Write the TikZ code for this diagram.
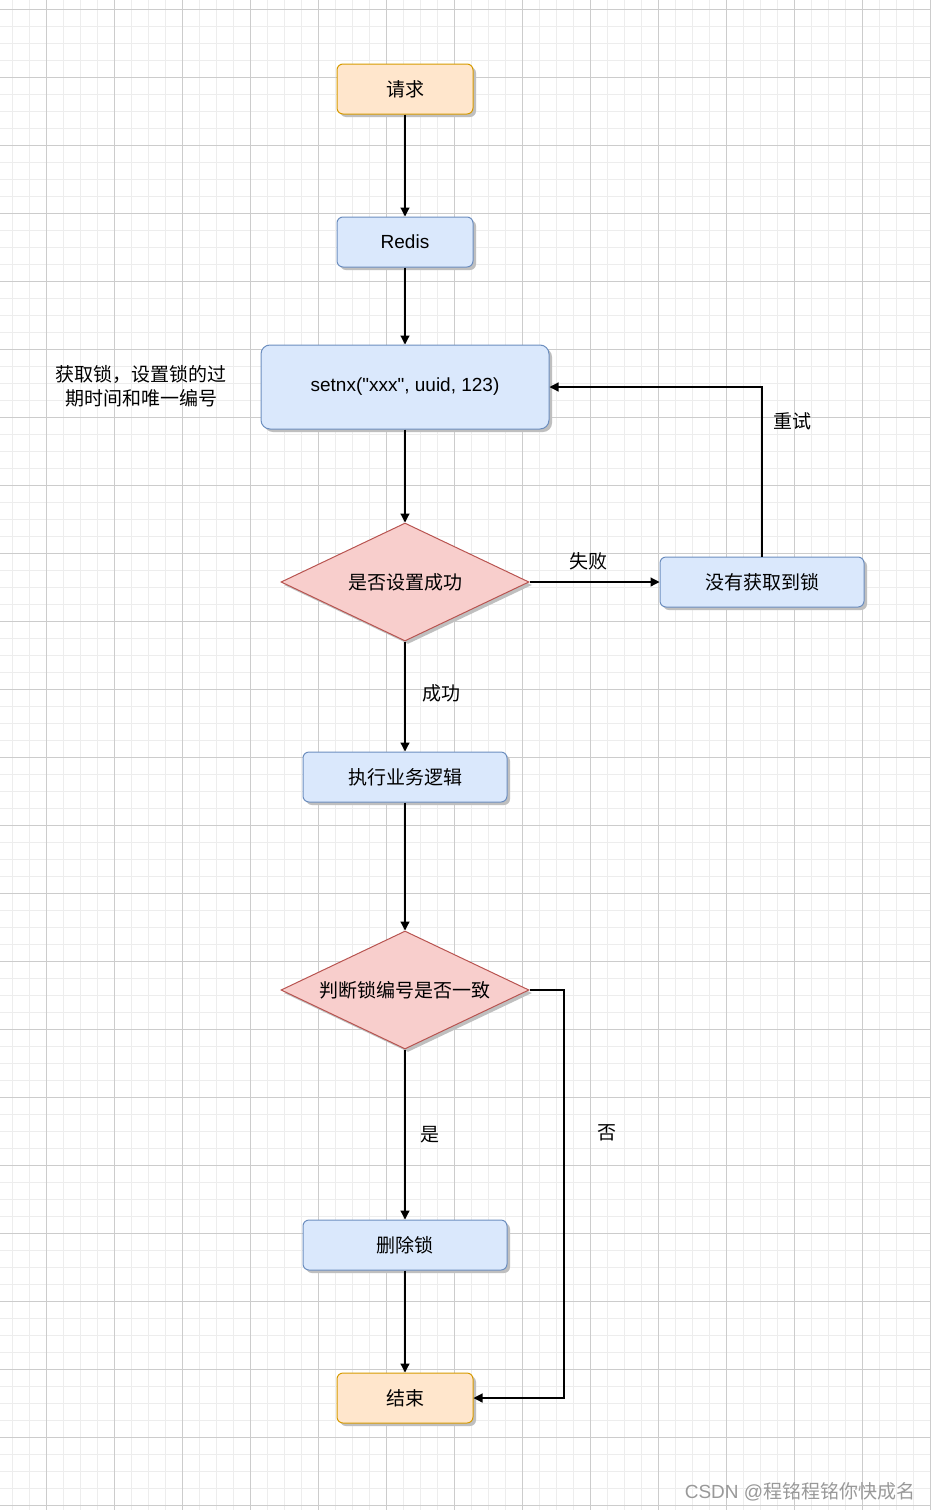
\documentclass[tikz,border=0pt]{standalone}
\usepackage{fontspec}
\setmainfont{Liberation Sans}
\newfontfamily\cjk{Noto Sans CJK SC}
\usetikzlibrary{shapes.geometric,shadows,arrows.meta}
\definecolor{yf}{HTML}{FFE6CC}\definecolor{yd}{HTML}{D79B00}
\definecolor{bf}{HTML}{DAE8FC}\definecolor{bd}{HTML}{6C8EBF}
\definecolor{rf}{HTML}{F8CECC}\definecolor{rd}{HTML}{B85450}
\begin{document}
\begin{tikzpicture}[x=1pt,y=-1pt,font=\cjk\fontsize{19}{22}\selectfont,
 sh/.style={drop shadow={shadow xshift=3pt,shadow yshift=-3pt,fill=black!25,opacity=1}},
 ybox/.style={rectangle,rounded corners=6pt,draw=yd,line width=1pt,fill=yf,minimum width=136pt,minimum height=50pt,sh},
 bbox/.style={rectangle,rounded corners=6pt,draw=bd,line width=1pt,fill=bf,minimum height=50pt,sh},
 dia/.style={diamond,aspect=2.1,draw=rd,line width=1pt,fill=rf,minimum width=248pt,minimum height=118pt,inner sep=0pt,sh},
 arr/.style={-{Triangle[length=9pt,width=9pt]},line width=1.2pt}]
\useasboundingbox (0,0) rectangle (930,1510);
\fill[white] (0,0) rectangle (930,1510);
\foreach \x in {12,29,...,930} \draw[black!7] (\x,0) -- (\x,1510);
\foreach \y in {9,26,...,1510} \draw[black!7] (0,\y) -- (930,\y);
\foreach \x in {46,114,...,930} \draw[black!20] (\x,0) -- (\x,1510);
\foreach \y in {9,77,...,1510} \draw[black!20] (0,\y) -- (930,\y);
\node[ybox] (req) at (405,89) {请求};
\node[bbox,minimum width=136pt] (redis) at (405,242) {\fontspec{Liberation Sans}Redis};
\node[bbox,minimum width=288pt,minimum height=84pt,rounded corners=9pt] (set) at (405,387) {\fontspec{Liberation Sans}setnx("xxx", uuid, 123)};
\node[align=center,font=\cjk\fontsize{19}{24}\selectfont] (note) at (141,386) {获取锁，设置锁的过\\期时间和唯一编号};
\node[dia] (d1) at (405,582) {是否设置成功};
\node[bbox,minimum width=204pt] (fail) at (762,582) {没有获取到锁};
\node[bbox,minimum width=204pt] (biz) at (405,777) {执行业务逻辑};
\node[dia] (d2) at (405,990) {判断锁编号是否一致};
\node[bbox,minimum width=204pt] (del) at (405,1245) {删除锁};
\node[ybox] (end) at (405,1398) {结束};
\draw[arr] (req) -- (redis);
\draw[arr] (redis) -- (set);
\draw[arr] (set) -- (d1);
\draw[arr] (d1) -- node[pos=0.47,right,xshift=14pt]{成功} (biz);
\draw[arr] (d1) -- node[above,yshift=8pt,xshift=-6pt]{失败} (fail);
\draw[arr] (fail.north) |- node[pos=0.4,right,xshift=8pt]{重试} (set.east);
\draw[arr] (biz) -- (d2);
\draw[arr] (d2) -- node[right,xshift=12pt]{是} (del);
\draw[arr] (del) -- (end);
\draw[arr] (d2.east) -- (564,990) -- node[pos=0.35,right,xshift=30pt]{否} (564,1398) -- (end.east);
\node[text=black!40,font=\fontspec{Liberation Sans}\fontsize{19}{22}\selectfont] (wm) at (800,1492) {CSDN @{\cjk 程铭程铭你快成名}};
\end{tikzpicture}
\end{document}
